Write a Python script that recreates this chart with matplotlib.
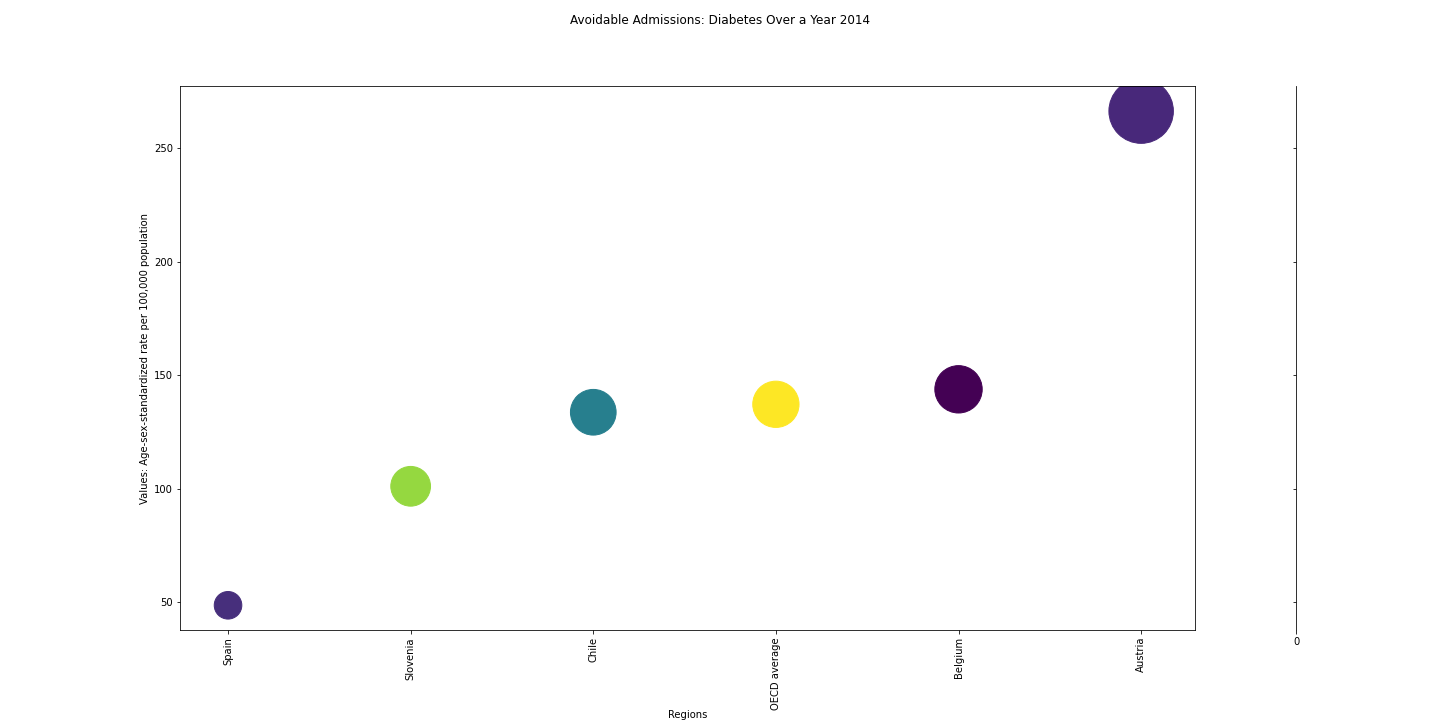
import numpy as np
import matplotlib
matplotlib.use("Agg")
import matplotlib.pyplot as plt

# values
regions = ["Spain", "Slovenia", "Chile", "OECD average", "Belgium", "Austria"]
values = np.array([48.7, 101.1, 133.7, 137.2, 143.8, 266.3])
colors = ["#472f7c", "#95d840", "#277f8e", "#fde725", "#440154", "#48287a"]

fig = plt.figure(figsize=(20, 10), dpi=72)
fig.suptitle("Avoidable Admissions: Diabetes Over a Year 2014", fontsize=12)

ax = fig.add_axes([0.125, 0.125, 0.705, 0.755])
x = np.arange(len(regions))
ax.scatter(x, values, s=values * 15.6, c=colors)
ax.set_xticks(x)
ax.set_xticklabels(regions, rotation=90)
ax.set_xlim(-0.263, 5.296)
ax.set_xlabel("Regions", labelpad=0)
ax.set_ylabel("Values: Age-sex-standardized rate per 100,000 population")

# the empty side axis on the right
ax2 = fig.add_axes([0.9, 0.125, 0.0001, 0.755], sharey=ax)
ax2.tick_params(labelleft=False)
ax2.set_xticks([0])
ax2.set_xticklabels(["0"])
for side in ["top", "bottom", "right"]:
    ax2.spines[side].set_visible(False)

fig.savefig("out.png", dpi=72)
